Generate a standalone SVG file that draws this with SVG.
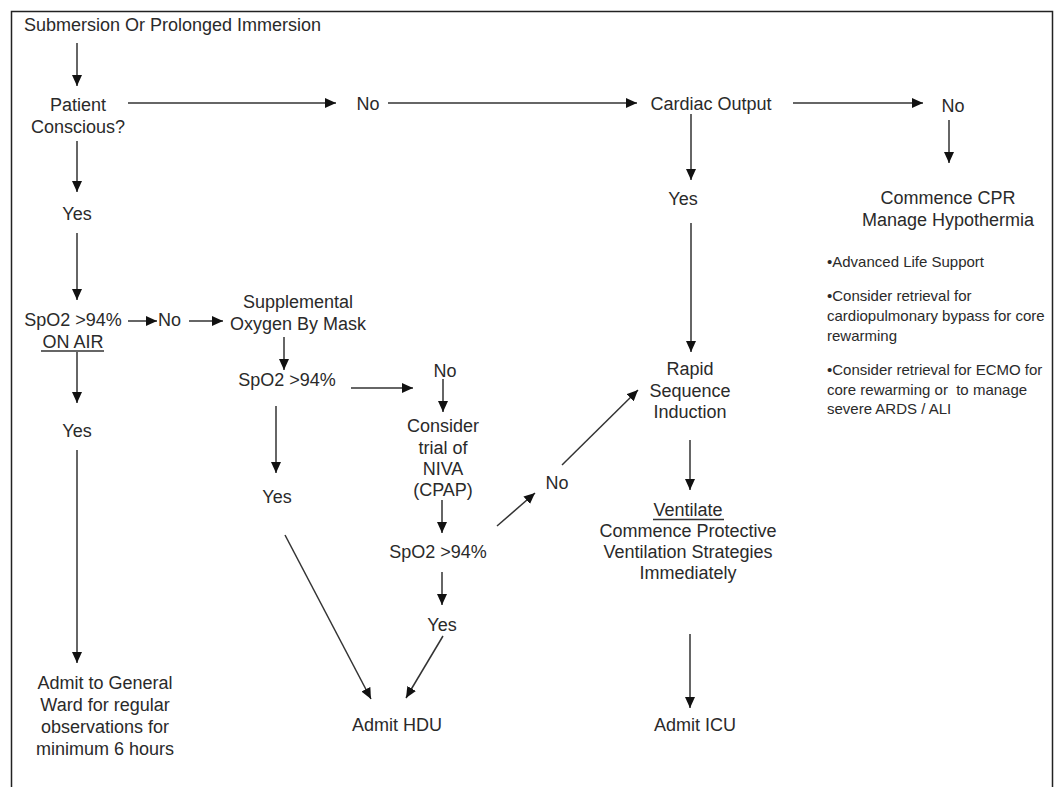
<svg xmlns="http://www.w3.org/2000/svg" width="1055" height="787" viewBox="0 0 1055 787">
<defs>
<style>
text{font-family:"Liberation Sans",Arial,sans-serif;font-size:18px;fill:#2a2a2a;text-anchor:middle}
.s{text-anchor:start}
.b{font-size:15px;text-anchor:start}
.c line{stroke:#333;stroke-width:1.5;marker-end:url(#ah)}
.u{stroke:#333;stroke-width:1.3}
</style>
<marker id="ah" markerUnits="userSpaceOnUse" markerWidth="11" markerHeight="10" refX="11" refY="5" orient="auto">
<path d="M0,0 L11,5 L0,10 z" fill="#111"/>
</marker>
</defs>
<rect width="1055" height="787" fill="#fff"/>
<path d="M11.5,787 V11.5 H1052.5 V787" fill="none" stroke="#222" stroke-width="1.5"/>

<g id="start"><text class="s" x="24" y="31">Submersion Or Prolonged Immersion</text></g>
<g id="conscious"><text x="78" y="111">Patient</text><text x="78" y="133">Conscious?</text></g>
<g id="no1"><text x="368" y="110">No</text></g>
<g id="cardiac"><text x="711" y="110">Cardiac Output</text></g>
<g id="no2"><text x="953" y="112">No</text></g>
<g id="cpr"><text x="948" y="204">Commence CPR</text><text x="948" y="226">Manage Hypothermia</text></g>
<g id="cpr-notes">
<text class="b" x="827" y="267">•Advanced Life Support</text>
<text class="b" x="827" y="301">•Consider retrieval for</text>
<text class="b" x="827" y="321">cardiopulmonary bypass for core</text>
<text class="b" x="827" y="341">rewarming</text>
<text class="b" x="827" y="375">•Consider retrieval for ECMO for</text>
<text class="b" x="827" y="395">core rewarming or&#160; to manage</text>
<text class="b" x="827" y="414">severe ARDS / ALI</text>
</g>
<g id="yes-cardiac"><text x="683" y="205">Yes</text></g>
<g id="rsi"><text x="690" y="375">Rapid</text><text x="690" y="397">Sequence</text><text x="690" y="418">Induction</text></g>
<g id="ventilate"><text x="688" y="516">Ventilate</text><line class="u" x1="653" y1="519.5" x2="724" y2="519.5"/>
<text x="688" y="537">Commence Protective</text><text x="688" y="558">Ventilation Strategies</text><text x="688" y="579">Immediately</text></g>
<g id="icu"><text x="695" y="731">Admit ICU</text></g>
<g id="yes1"><text x="77" y="220">Yes</text></g>
<g id="spo2-air"><text x="73" y="326">SpO2 &gt;94%</text><text x="73" y="348">ON AIR</text><line class="u" x1="41" y1="351" x2="104" y2="351"/></g>
<g id="no3"><text class="s" x="158" y="326">No</text></g>
<g id="oxygen"><text x="298" y="308">Supplemental</text><text x="298" y="330">Oxygen By Mask</text></g>
<g id="spo2-mask"><text x="287" y="386">SpO2 &gt;94%</text></g>
<g id="no4"><text x="445" y="377">No</text></g>
<g id="niva"><text x="443" y="432">Consider</text><text x="443" y="454">trial of</text><text x="443" y="475">NIVA</text><text x="443" y="496">(CPAP)</text></g>
<g id="yes-mask"><text x="277" y="503">Yes</text></g>
<g id="spo2-niva"><text x="438" y="558">SpO2 &gt;94%</text></g>
<g id="no5"><text x="557" y="489">No</text></g>
<g id="yes-niva"><text x="442" y="631">Yes</text></g>
<g id="hdu"><text x="397" y="731">Admit HDU</text></g>
<g id="yes2"><text x="77" y="437">Yes</text></g>
<g id="ward"><text x="105" y="689">Admit to General</text><text x="105" y="711">Ward for regular</text><text x="105" y="733">observations for</text><text x="105" y="755">minimum 6 hours</text></g>

<g id="connectors" class="c">
<line x1="77" y1="43" x2="77" y2="86"/>
<line x1="128" y1="103" x2="336" y2="103"/>
<line x1="388" y1="103" x2="637" y2="103"/>
<line x1="793" y1="103" x2="923" y2="103"/>
<line x1="949" y1="120" x2="949" y2="163"/>
<line x1="691" y1="114" x2="691" y2="180"/>
<line x1="691" y1="223" x2="691" y2="352"/>
<line x1="690" y1="440" x2="690" y2="490"/>
<line x1="690" y1="634" x2="690" y2="708"/>
<line x1="77" y1="141" x2="77" y2="192"/>
<line x1="77" y1="233" x2="77" y2="300"/>
<line x1="128" y1="321" x2="157" y2="321"/>
<line x1="189" y1="321" x2="223" y2="321"/>
<line x1="77" y1="352" x2="77" y2="403"/>
<line x1="77" y1="450" x2="77" y2="663"/>
<line x1="284" y1="337" x2="284" y2="370"/>
<line x1="351" y1="388" x2="413" y2="388"/>
<line x1="443" y1="379" x2="443" y2="412"/>
<line x1="276" y1="406" x2="276" y2="473"/>
<line x1="442" y1="500" x2="442" y2="533"/>
<line x1="497" y1="526" x2="535" y2="493"/>
<line x1="562" y1="465" x2="638" y2="390"/>
<line x1="442" y1="572" x2="442" y2="605"/>
<line x1="443" y1="636" x2="406" y2="698"/>
<line x1="285" y1="535" x2="371" y2="699"/>
</g>
</svg>
